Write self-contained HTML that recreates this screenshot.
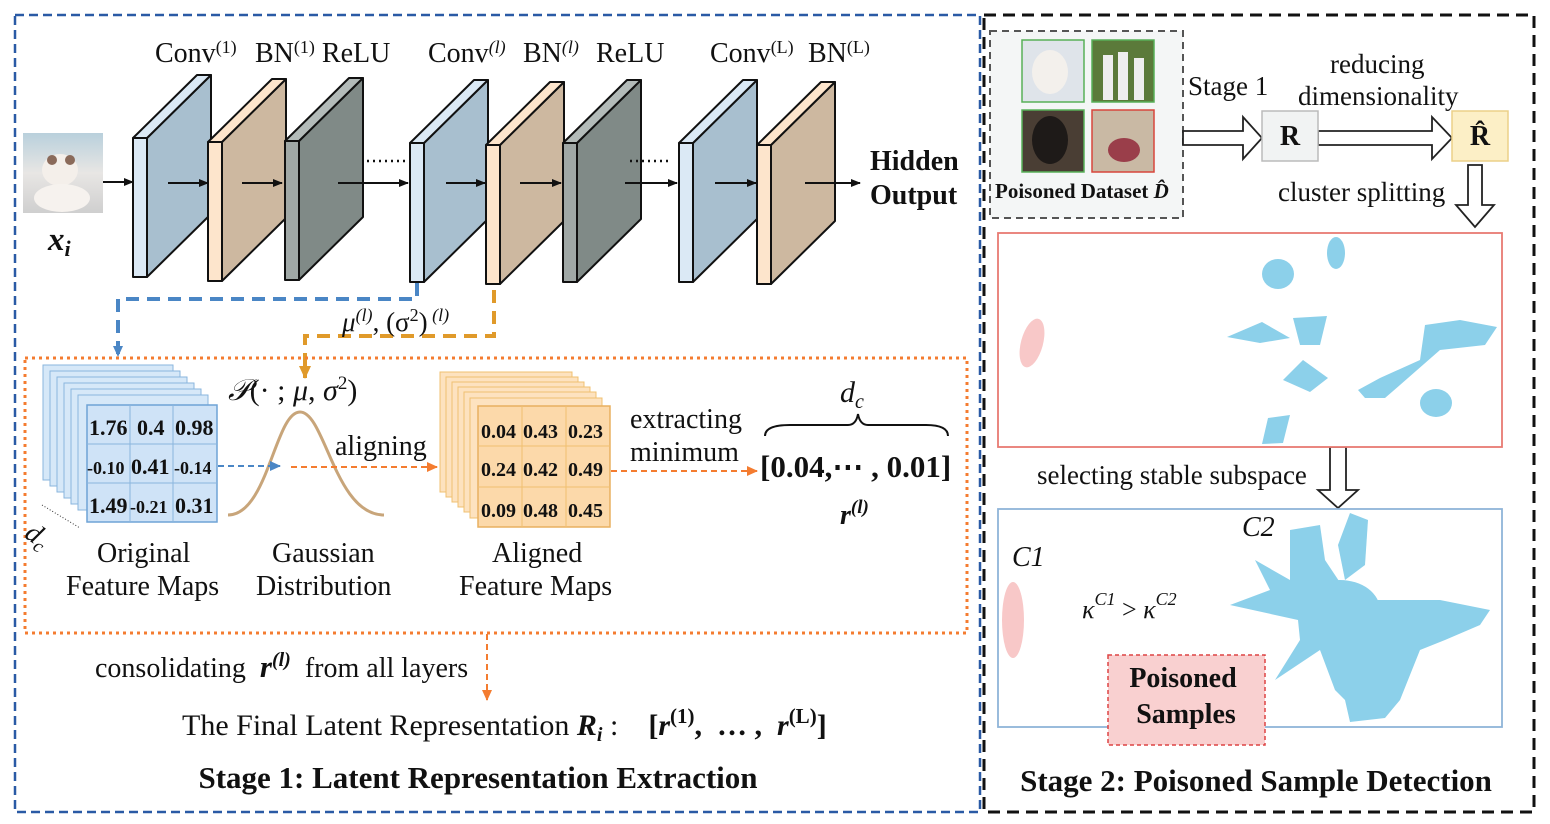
<!DOCTYPE html>
<html><head><meta charset="utf-8"><style>
html,body{margin:0;padding:0;background:#fff;}
svg{display:block;}
text{font-family:"Liberation Serif",serif;fill:#111;}
.b{font-weight:bold;}
.i{font-style:italic;}
</style></head><body>
<svg width="1550" height="824" viewBox="0 0 1550 824" xmlns="http://www.w3.org/2000/svg">
<defs>
<marker id="ah" markerWidth="10" markerHeight="10" refX="9" refY="5" orient="auto" markerUnits="userSpaceOnUse"><path d="M0,1 L10,5 L0,9 z" fill="#111"/></marker>
<marker id="ahb" markerWidth="12" markerHeight="12" refX="10" refY="6" orient="auto" markerUnits="userSpaceOnUse"><path d="M0,1 L11,6 L0,11 z" fill="#4a86c5"/></marker>
<marker id="aho" markerWidth="12" markerHeight="12" refX="10" refY="6" orient="auto" markerUnits="userSpaceOnUse"><path d="M0,1 L11,6 L0,11 z" fill="#f47c30"/></marker>
<marker id="ahy" markerWidth="14" markerHeight="14" refX="12" refY="7" orient="auto" markerUnits="userSpaceOnUse"><path d="M0,1 L13,7 L0,13 z" fill="#e09a2a"/></marker>
<g id="slabC" stroke="#111" stroke-width="2" stroke-linejoin="round">
<polygon points="14,0 78,-63 78,76 14,139" fill="#a8bfcf"/><polygon points="0,0 14,0 78,-63 64,-63" fill="#dbe9f5"/><rect x="0" y="0" width="14" height="139" fill="#dbe9f5"/></g>
<g id="slabB" stroke="#111" stroke-width="2" stroke-linejoin="round">
<polygon points="14,0 78,-63 78,76 14,139" fill="#cdb8a0"/><polygon points="0,0 14,0 78,-63 64,-63" fill="#fde5cc"/><rect x="0" y="0" width="14" height="139" fill="#fde5cc"/></g>
<g id="slabR" stroke="#111" stroke-width="2" stroke-linejoin="round">
<polygon points="14,0 78,-63 78,76 14,139" fill="#808a87"/><polygon points="0,0 14,0 78,-63 64,-63" fill="#b3bbb9"/><rect x="0" y="0" width="14" height="139" fill="#a0a8a6"/></g>
<linearGradient id="cat" x1="0" y1="0" x2="0" y2="1"><stop offset="0" stop-color="#b9d0dc"/><stop offset="0.5" stop-color="#e8e6e4"/><stop offset="1" stop-color="#cfcfcf"/></linearGradient>
</defs>

<rect x="15" y="15" width="965" height="797" fill="none" stroke="#2a5aa5" stroke-width="2.5" stroke-dasharray="9,5"/>
<rect x="984" y="15" width="550" height="797" fill="none" stroke="#111" stroke-width="3" stroke-dasharray="12,7"/>

<rect x="23" y="133" width="80" height="80" fill="url(#cat)"/>
<ellipse cx="60" cy="170" rx="18" ry="16" fill="#f4efea"/><ellipse cx="62" cy="198" rx="28" ry="14" fill="#f6f2ee"/>
<circle cx="52" cy="160" r="5" fill="#8a6a5a"/><circle cx="70" cy="160" r="5" fill="#8a6a5a"/>
<text x="48" y="250" class="b i" font-size="33">x<tspan font-size="22" dy="6">i</tspan></text>
<line x1="103" y1="182" x2="133" y2="182" stroke="#111" stroke-width="2" marker-end="url(#ah)"/>

<use href="#slabC" x="133" y="138"/>
<use href="#slabB" x="208" y="142"/>
<use href="#slabR" x="285" y="141"/>
<use href="#slabC" x="410" y="143"/>
<use href="#slabB" x="486" y="145"/>
<use href="#slabR" x="563" y="143"/>
<use href="#slabC" x="679" y="143"/>
<use href="#slabB" x="757" y="145"/>
<g stroke="#111" stroke-width="2" fill="none">
<line x1="168" y1="183" x2="208" y2="183" marker-end="url(#ah)"/>
<line x1="242" y1="183" x2="282" y2="183" marker-end="url(#ah)"/>
<line x1="338" y1="183" x2="408" y2="183" marker-end="url(#ah)"/>
<line x1="446" y1="183" x2="485" y2="183" marker-end="url(#ah)"/>
<line x1="520" y1="183" x2="561" y2="183" marker-end="url(#ah)"/>
<line x1="625" y1="183" x2="677" y2="183" marker-end="url(#ah)"/>
<line x1="715" y1="183" x2="756" y2="183" marker-end="url(#ah)"/>
<line x1="805" y1="183" x2="860" y2="183" marker-end="url(#ah)"/>
<line x1="367" y1="161" x2="405" y2="161" stroke-dasharray="2,4" stroke-width="2.5"/>
<line x1="630" y1="161" x2="672" y2="161" stroke-dasharray="2,4" stroke-width="2.5"/>
</g>
<text x="155" y="62" font-size="28">Conv<tspan font-size="18" dy="-9">(1)</tspan></text>
<text x="255" y="62" font-size="28">BN<tspan font-size="18" dy="-9">(1)</tspan><tspan dy="9"> ReLU</tspan></text>
<text x="428" y="62" font-size="28">Conv<tspan font-size="18" dy="-9" class="i">(l)</tspan></text>
<text x="523" y="62" font-size="28">BN<tspan font-size="18" dy="-9" class="i">(l)</tspan></text>
<text x="596" y="62" font-size="28">ReLU</text>
<text x="710" y="62" font-size="28">Conv<tspan font-size="18" dy="-9">(L)</tspan></text>
<text x="808" y="62" font-size="28">BN<tspan font-size="18" dy="-9">(L)</tspan></text>
<text x="870" y="170" class="b" font-size="28">Hidden</text>
<text x="870" y="204" class="b" font-size="28">Output</text>

<polyline points="417,283 417,299 118,299 118,356" fill="none" stroke="#4a86c5" stroke-width="4" stroke-dasharray="13,8" marker-end="url(#ahb)"/>
<polyline points="494,290 494,336 305,336 305,378" fill="none" stroke="#e09a2a" stroke-width="4" stroke-dasharray="13,8" marker-end="url(#ahy)"/>
<text x="342" y="331" font-size="27" class="i">μ<tspan font-size="18" dy="-10">(l)</tspan><tspan dy="10" font-style="normal">, (σ</tspan><tspan font-size="18" dy="-10" font-style="normal">2</tspan><tspan dy="10" font-style="normal">)</tspan><tspan font-size="18" dy="-10"> (l)</tspan></text>

<rect x="25" y="358" width="942" height="275" fill="none" stroke="#f47c30" stroke-width="3" stroke-dasharray="3,4"/>

<g stroke="#8ab6de" stroke-width="1" fill="#d6e8f8">
<rect x="43" y="365" width="130" height="115"/><rect x="50" y="371" width="130" height="115"/><rect x="57" y="377" width="130" height="115"/><rect x="64" y="383" width="130" height="115"/><rect x="71" y="389" width="130" height="115"/><rect x="78" y="395" width="130" height="115"/>
<rect x="87" y="405" width="130" height="117" fill="#cfe3f7" stroke="#6fa3d6" stroke-width="1.5"/>
<line x1="87" y1="444" x2="217" y2="444"/><line x1="87" y1="483" x2="217" y2="483"/><line x1="130" y1="405" x2="130" y2="522"/><line x1="173" y1="405" x2="173" y2="522"/>
</g>
<g font-size="22" font-weight="bold">
<text x="89" y="435">1.76</text><text x="137" y="435">0.4</text><text x="175" y="435">0.98</text>
<text x="87" y="474" font-size="18">-0.10</text><text x="131" y="474">0.41</text><text x="174" y="474" font-size="18">-0.14</text>
<text x="89" y="513">1.49</text><text x="130" y="513" font-size="18">-0.21</text><text x="175" y="513">0.31</text>
</g>
<line x1="42" y1="505" x2="80" y2="528" stroke="#333" stroke-width="1" stroke-dasharray="1,2"/>
<text x="30" y="545" font-size="28" class="i" transform="rotate(35 40 530)">d<tspan font-size="19" dy="5">c</tspan></text>

<path d="M228,515 C268,515 275,412 300,412 C325,412 335,515 384,515" fill="none" stroke="#c8a57a" stroke-width="3"/>
<text x="228" y="400" font-size="30" class="i">𝒫<tspan font-style="normal">(· ; </tspan>μ<tspan font-style="normal">, </tspan>σ<tspan font-size="19" dy="-11" font-style="normal">2</tspan><tspan dy="11" font-style="normal">)</tspan></text>
<line x1="218" y1="466" x2="280" y2="466" stroke="#4a86c5" stroke-width="2" stroke-dasharray="6,4" marker-end="url(#ahb)"/>
<line x1="291" y1="467" x2="437" y2="467" stroke="#f47c30" stroke-width="2" stroke-dasharray="6,4" marker-end="url(#aho)"/>
<text x="335" y="455" font-size="28">aligning</text>

<g stroke="#f0c070" stroke-width="1" fill="#fde2bf">
<rect x="440" y="372" width="132" height="120"/><rect x="446" y="377" width="132" height="120"/><rect x="452" y="382" width="132" height="120"/><rect x="458" y="387" width="132" height="120"/><rect x="464" y="392" width="132" height="120"/><rect x="470" y="398" width="132" height="120"/>
<rect x="478" y="406" width="132" height="121" fill="#fcd9aa" stroke="#e8b060" stroke-width="1.5"/>
<line x1="478" y1="446" x2="610" y2="446"/><line x1="478" y1="487" x2="610" y2="487"/><line x1="522" y1="406" x2="522" y2="527"/><line x1="566" y1="406" x2="566" y2="527"/>
</g>
<g font-size="20" font-weight="bold">
<text x="481" y="438">0.04</text><text x="523" y="438">0.43</text><text x="568" y="438">0.23</text>
<text x="481" y="476">0.24</text><text x="523" y="476">0.42</text><text x="568" y="476">0.49</text>
<text x="481" y="517">0.09</text><text x="523" y="517">0.48</text><text x="568" y="517">0.45</text>
</g>
<line x1="611" y1="471" x2="757" y2="471" stroke="#f47c30" stroke-width="2" stroke-dasharray="6,4" marker-end="url(#aho)"/>
<text x="630" y="428" font-size="28">extracting</text>
<text x="630" y="461" font-size="28">minimum</text>
<path d="M765,436 Q765,425 790,425 L848,425 Q856,425 858,414 Q860,425 868,425 L926,425 Q948,425 948,436" fill="none" stroke="#111" stroke-width="2"/>
<text x="840" y="402" font-size="30" class="i">d<tspan font-size="20" dy="6">c</tspan></text>
<text x="760" y="477" font-size="31" font-weight="bold">[0.04,⋯ , 0.01]</text>
<text x="840" y="524" font-size="28" class="b i">r<tspan font-size="19" dy="-11">(l)</tspan></text>

<text x="97" y="562" font-size="28">Original</text>
<text x="66" y="595" font-size="28">Feature Maps</text>
<text x="272" y="562" font-size="28">Gaussian</text>
<text x="256" y="595" font-size="28">Distribution</text>
<text x="492" y="562" font-size="28">Aligned</text>
<text x="459" y="595" font-size="28">Feature Maps</text>

<line x1="487" y1="634" x2="487" y2="700" stroke="#f47c30" stroke-width="2" stroke-dasharray="6,4" marker-end="url(#aho)"/>
<text x="95" y="677" font-size="28" xml:space="preserve">consolidating  <tspan class="b i" font-size="31">r</tspan><tspan font-size="20" dy="-11" class="b i">(l)</tspan><tspan dy="11">  from all layers</tspan></text>
<text x="182" y="735" font-size="30" xml:space="preserve">The Final Latent Representation <tspan class="b i">R</tspan><tspan class="b i" font-size="20" dy="6">i</tspan><tspan dy="-6"> :    </tspan><tspan font-weight="bold">[</tspan><tspan class="b i">r</tspan><tspan class="b" font-size="21" dy="-12">(1)</tspan><tspan dy="12" class="b">,  … ,  </tspan><tspan class="b i">r</tspan><tspan class="b" font-size="21" dy="-12">(L)</tspan><tspan dy="12" class="b">]</tspan></text>
<text x="478" y="788" font-size="31" font-weight="bold" text-anchor="middle">Stage 1: Latent Representation Extraction</text>

<rect x="990" y="31" width="193" height="187" fill="#f4f6f6" stroke="#555" stroke-width="2" stroke-dasharray="7,5"/>
<rect x="1022" y="40" width="62" height="62" fill="#dfe4ea" stroke="#58b058" stroke-width="1.5"/>
<ellipse cx="1050" cy="72" rx="18" ry="22" fill="#f3f0ec"/>
<rect x="1092" y="40" width="62" height="62" fill="#5b7a3a" stroke="#58b058" stroke-width="1.5"/>
<rect x="1103" y="55" width="10" height="45" fill="#eee"/><rect x="1118" y="52" width="10" height="48" fill="#eee"/><rect x="1134" y="58" width="10" height="42" fill="#eee"/>
<rect x="1022" y="110" width="62" height="62" fill="#4a3e34" stroke="#58b058" stroke-width="1.5"/>
<ellipse cx="1050" cy="140" rx="18" ry="24" fill="#1e1a18"/>
<rect x="1092" y="110" width="62" height="62" fill="#c9b9a4" stroke="#d8463c" stroke-width="1.5"/>
<ellipse cx="1124" cy="150" rx="16" ry="12" fill="#9a3e4a"/>
<text x="995" y="198" font-size="21" font-weight="bold" fill="#333">Poisoned Dataset <tspan class="i">D̂</tspan></text>

<g fill="#fff" stroke="#222" stroke-width="1.8">
<polygon points="1183,131 1243,131 1243,117 1262,138 1243,159 1243,145 1183,145"/>
<polygon points="1318,131 1432,131 1432,117 1452,138 1432,159 1432,145 1318,145"/>
<polygon points="1468,165 1482,165 1482,205 1494,205 1475,227 1456,205 1468,205"/>
<polygon points="1330,447 1346,447 1346,490 1358,490 1338,508 1318,490 1330,490"/>
<polygon points="1055,629 1064,620 1095,651 1103,643 1103,670 1076,670 1084,662"/>
</g>
<rect x="1262" y="111" width="56" height="50" fill="#f1f3f3" stroke="#bbb" stroke-width="1.5"/>
<text x="1290" y="145" font-size="28" font-weight="bold" text-anchor="middle" fill="#333">R</text>
<rect x="1452" y="111" width="56" height="50" fill="#fcefc6" stroke="#ecd088" stroke-width="1.5"/>
<text x="1480" y="145" font-size="28" font-weight="bold" text-anchor="middle" fill="#333">R̂</text>
<text x="1188" y="95" font-size="27">Stage 1</text>
<text x="1330" y="73" font-size="27">reducing</text>
<text x="1298" y="105" font-size="27">dimensionality</text>
<text x="1278" y="201" font-size="27">cluster splitting</text>

<rect x="998" y="233" width="504" height="214" fill="#fff" stroke="#e87a72" stroke-width="1.8"/>
<g fill="#8cd0ea">
<ellipse cx="1336" cy="253" rx="9" ry="16"/>
<ellipse cx="1278" cy="274" rx="16" ry="15"/>
<path d="M1227,337 L1262,322 L1290,338 L1260,343 z"/>
<path d="M1293,318 L1327,316 L1320,345 L1300,345 z"/>
<path d="M1283,380 L1303,360 L1328,378 L1310,392 z"/>
<path d="M1358,390 L1380,378 L1420,360 L1425,325 L1460,320 L1497,327 L1485,345 L1440,350 L1400,385 L1385,398 L1365,398 z"/>
<ellipse cx="1436" cy="403" rx="16" ry="14"/>
<path d="M1262,444 L1268,418 L1290,415 L1283,443 z"/>
</g>
<ellipse cx="1032" cy="343" rx="11" ry="25" fill="#f8c8c8" transform="rotate(15 1032 343)"/>
<text x="1037" y="484" font-size="27">selecting stable subspace</text>

<rect x="998" y="509" width="504" height="218" fill="#fff" stroke="#8fb4d8" stroke-width="1.8"/>
<g fill="#8cd0ea">
<path d="M1350,513 L1368,520 L1365,565 L1345,580 L1338,545 z"/>
<path d="M1290,530 L1320,525 L1325,560 L1345,590 L1355,600 L1410,600 L1440,600 L1490,610 L1480,625 L1445,640 L1420,650 L1400,700 L1385,718 L1350,722 L1345,700 L1335,690 L1320,650 L1275,680 L1300,640 L1298,620 L1230,605 L1270,590 L1255,560 L1290,580 z"/>
<ellipse cx="1340" cy="610" rx="40" ry="30"/>
</g>
<ellipse cx="1013" cy="620" rx="11" ry="38" fill="#f8c8c8"/>
<text x="1012" y="566" font-size="28" class="i" font-family="DejaVu Serif">C1</text>
<text x="1242" y="536" font-size="28" class="i" font-family="DejaVu Serif">C2</text>
<text x="1082" y="618" font-size="26" class="i">κ<tspan font-size="18" dy="-13">C1</tspan><tspan dy="13" font-style="normal">  &gt;  </tspan>κ<tspan font-size="18" dy="-13">C2</tspan></text>
<rect x="1108" y="655" width="157" height="90" fill="#f9d0d0" stroke="#d44" stroke-width="1.5" stroke-dasharray="4,3"/>
<text x="1183" y="687" font-size="28" font-weight="bold" text-anchor="middle" fill="#222">Poisoned</text>
<text x="1186" y="723" font-size="28" font-weight="bold" text-anchor="middle" fill="#222">Samples</text>
<text x="1256" y="791" font-size="31" font-weight="bold" text-anchor="middle">Stage 2: Poisoned Sample Detection</text>
</svg>
</body></html>
